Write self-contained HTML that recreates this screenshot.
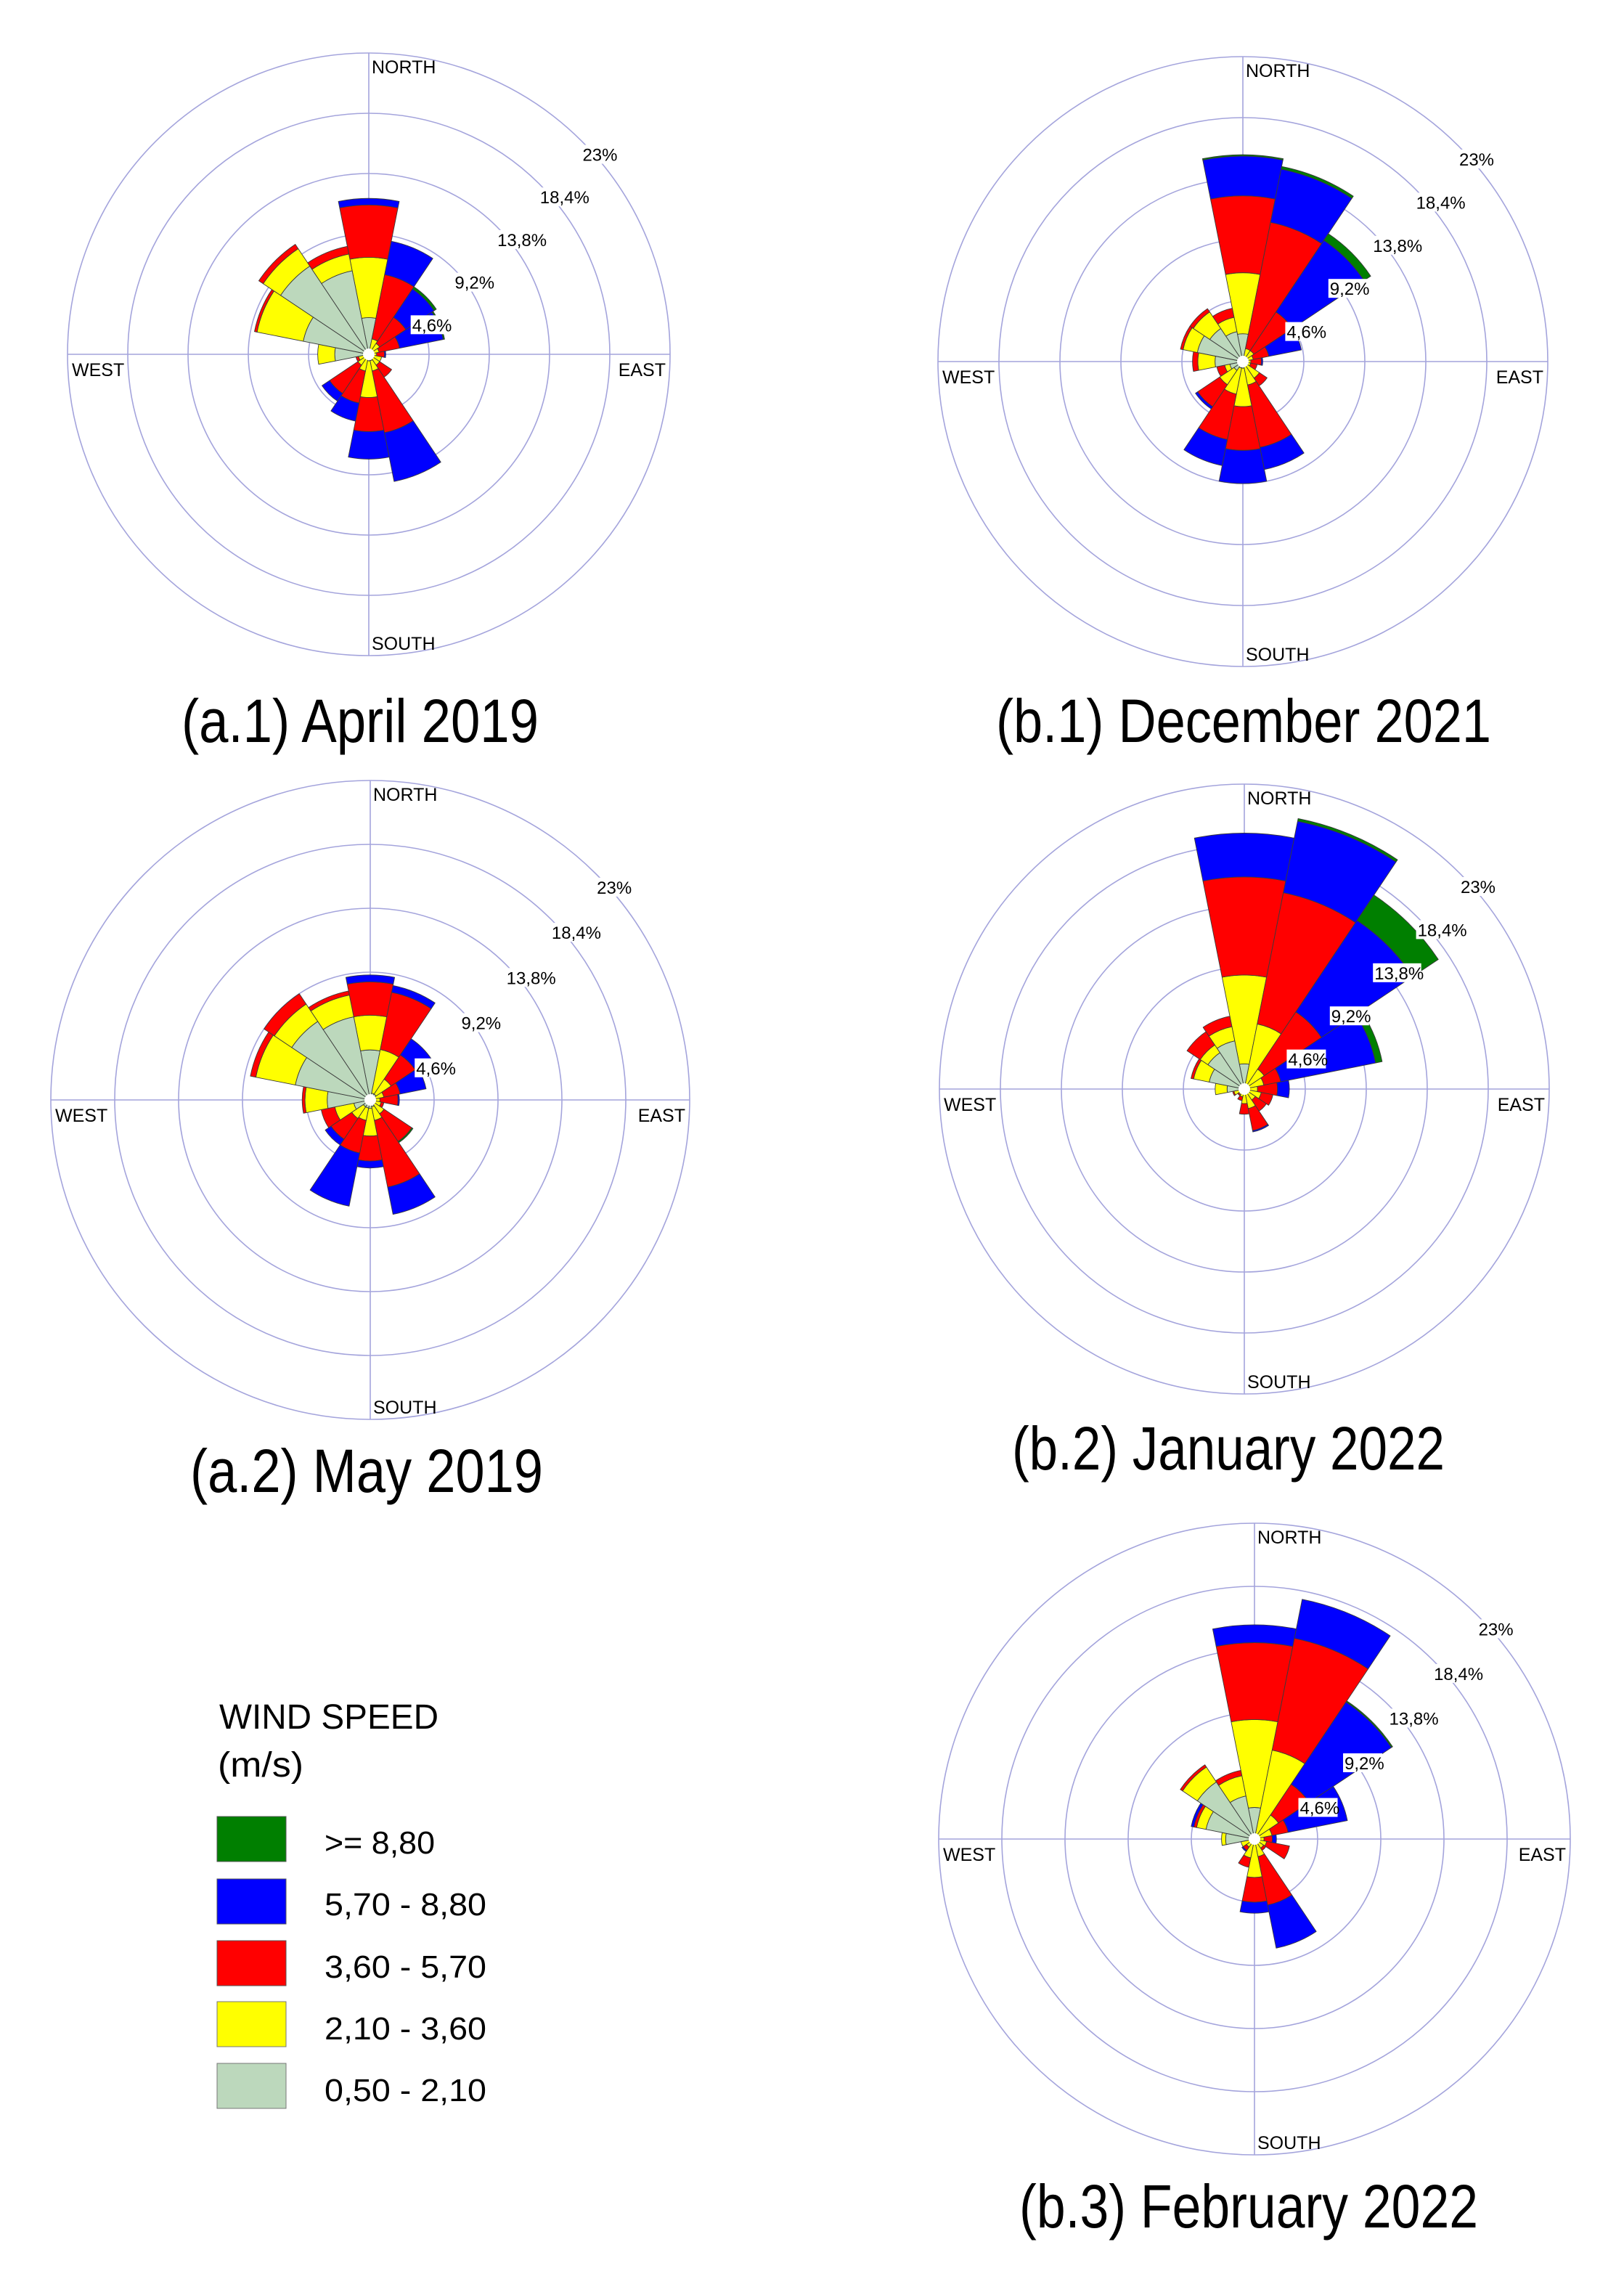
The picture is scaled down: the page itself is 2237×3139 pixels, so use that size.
<!DOCTYPE html>
<html><head><meta charset="utf-8"><style>
html,body{margin:0;padding:0;background:#fff;}
svg{display:block;}
</style></head><body>
<svg id="fig" xmlns="http://www.w3.org/2000/svg" width="2237" height="3139" viewBox="0 0 2237 3139" font-family="Liberation Sans, sans-serif">
<rect x="0" y="0" width="2237" height="3139" fill="#fff"/>
<g id="roses"></g>
<g font-size="84" fill="#000">
<text x="250" y="1022" textLength="492" lengthAdjust="spacingAndGlyphs">(a.1) April 2019</text>
<text x="1372" y="1022" textLength="682" lengthAdjust="spacingAndGlyphs">(b.1) December 2021</text>
<text x="262" y="2055" textLength="486" lengthAdjust="spacingAndGlyphs">(a.2) May 2019</text>
<text x="1394" y="2024" textLength="596" lengthAdjust="spacingAndGlyphs">(b.2) January 2022</text>
<text x="1404" y="3068" textLength="632" lengthAdjust="spacingAndGlyphs">(b.3) February 2022</text>
</g>
<g>
<text x="302" y="2381" font-size="48" textLength="302" lengthAdjust="spacingAndGlyphs">WIND SPEED</text>
<text x="300" y="2447" font-size="48" textLength="118" lengthAdjust="spacingAndGlyphs">(m/s)</text>
<rect x="299" y="2502" width="95" height="62" fill="#007f00" stroke="#555" stroke-width="1"/>
<rect x="299" y="2588" width="95" height="62" fill="#0000ff" stroke="#555" stroke-width="1"/>
<rect x="299" y="2673" width="95" height="62" fill="#ff0000" stroke="#555" stroke-width="1"/>
<rect x="299" y="2757" width="95" height="62" fill="#ffff00" stroke="#777" stroke-width="1"/>
<rect x="299" y="2842" width="95" height="62" fill="#bcd8bc" stroke="#777" stroke-width="1"/>
<g font-size="44">
<text x="447" y="2553" textLength="152" lengthAdjust="spacingAndGlyphs">&gt;= 8,80</text>
<text x="447" y="2638" textLength="223" lengthAdjust="spacingAndGlyphs">5,70 - 8,80</text>
<text x="447" y="2724" textLength="223" lengthAdjust="spacingAndGlyphs">3,60 - 5,70</text>
<text x="447" y="2809" textLength="223" lengthAdjust="spacingAndGlyphs">2,10 - 3,60</text>
<text x="447" y="2894" textLength="223" lengthAdjust="spacingAndGlyphs">0,50 - 2,10</text>
</g>
</g>
</svg>
<script>
// Directions: N, NNE, NE, ENE, E, ESE, SE, SSE, S, SSW, SW, WSW, W, WNW, NW, NNW
var directions = ["N","NNE","NE","ENE","E","ESE","SE","SSE","S","SSW","SW","WSW","W","WNW","NW","NNW"];
var ringTicks = [4.6, 9.2, 13.8, 18.4, 23];
var ringLabels = ["4,6%","9,2%","13,8%","18,4%","23%"];
var speedClasses = ["0,50 - 2,10","2,10 - 3,60","3,60 - 5,70","5,70 - 8,80",">= 8,80"];
// cumulative frequency (%) at outer edge of each speed class
var a1Grey   = [2.8,0.3,0.3,0.2,0.2,0.3,0.3,0.5,0.5,0.3,0.3,0.4,2.6,5.1,8.1,6.5];
var a1Yellow = [7.4,1.2,1.0,0.8,0.6,1.0,1.0,1.3,3.3,1.3,1.0,0.8,3.9,8.7,9.7,7.8];
var a1Red    = [11.4,6.2,3.4,2.4,1.2,1.0,2.1,6.1,5.9,3.8,3.6,1.0,3.9,8.9,10.1,8.4];
var a1Blue   = [11.9,8.8,6.0,5.8,1.3,1.0,2.1,9.9,8.0,5.2,4.3,1.0,3.9,8.9,10.1,8.4];
var a1Green  = [11.9,8.8,6.2,5.9,1.3,1.0,2.1,9.9,8.0,5.2,4.3,1.0,3.9,8.9,10.1,8.4];

var b1Grey   = [2.1,0.3,0.3,0.3,0.2,0.2,0.3,0.3,0.5,0.5,0.8,1.0,2.1,3.5,3.0,2.3];
var b1Yellow = [6.7,1.0,1.0,0.8,0.6,0.6,1.5,1.8,3.4,2.5,2.1,1.4,3.4,4.6,4.5,3.4];
var b1Red    = [12.5,10.7,4.5,2.0,1.4,1.1,2.2,6.6,6.7,6.0,4.1,2.0,3.8,4.8,4.8,4.1];
var b1Blue   = [15.5,14.8,11.0,4.5,1.5,1.1,2.2,8.3,9.2,8.0,4.3,2.0,3.8,4.8,4.8,4.1];
var b1Green  = [15.6,15.0,11.6,4.5,1.5,1.1,2.2,8.3,9.2,8.0,4.3,2.0,3.8,4.8,4.8,4.1];

var a2Grey   = [3.6,0.5,0.5,0.4,0.3,0.3,0.4,0.5,0.6,0.6,0.6,1.2,3.1,5.5,6.8,6.1];
var a2Yellow = [6.1,3.7,1.8,1.0,0.7,0.8,1.2,1.5,2.6,1.5,1.6,2.6,4.7,8.4,8.3,7.7];
var a2Red    = [8.5,7.9,3.9,2.2,2.0,1.0,3.6,6.4,4.4,3.9,3.4,3.6,4.9,8.8,9.2,8.0];
var a2Blue   = [9.0,8.4,5.3,4.1,2.1,1.0,3.6,8.4,4.9,7.8,3.9,3.6,4.9,8.8,9.2,8.0];
var a2Green  = [9.0,8.4,5.3,4.1,2.1,1.0,3.7,8.4,4.9,7.8,3.9,3.6,4.9,8.8,9.2,8.0];

var b2Grey   = [1.9,0.3,0.3,0.3,0.3,0.3,0.3,0.3,0.3,0.3,0.3,0.4,1.3,2.7,3.3,3.7];
var b2Yellow = [8.6,5.0,1.8,1.5,1.0,1.3,1.0,1.5,1.1,0.6,0.5,0.8,2.2,3.9,4.0,4.8];
var b2Red    = [16.0,15.1,7.0,2.8,2.5,2.2,2.0,3.2,1.9,0.9,0.6,0.9,2.2,4.1,5.2,5.6];
var b2Blue   = [19.3,20.6,15.3,10.1,3.4,2.2,2.0,3.3,1.9,0.9,0.6,0.9,2.2,4.1,5.2,5.6];
var b2Green  = [19.3,20.8,17.6,10.6,3.4,2.2,2.0,3.3,1.9,0.9,0.6,0.9,2.2,4.1,5.2,5.6];

var b3Grey   = [2.3,0.3,0.3,0.3,0.2,0.2,0.2,0.3,0.4,0.3,0.3,0.3,2.1,3.6,5.0,3.2];
var b3Yellow = [8.7,6.6,2.1,1.3,0.7,0.9,0.8,1.3,2.8,1.4,0.7,1.0,2.4,4.3,6.3,4.7];
var b3Red    = [14.3,14.9,4.8,2.5,1.3,2.6,1.0,4.9,4.6,2.1,1.0,1.0,2.4,4.5,6.5,5.1];
var b3Blue   = [15.6,17.8,12.0,6.9,1.6,2.6,1.0,8.1,5.4,2.1,1.1,1.0,2.4,4.7,6.5,5.1];
var b3Green  = [15.6,17.8,12.1,6.9,1.6,2.6,1.0,8.1,5.4,2.1,1.1,1.0,2.4,4.7,6.5,5.1];

var NS = "http://www.w3.org/2000/svg";
var classColors = ["#bcd8bc","#ffff00","#ff0000","#0000ff","#007f00"];
var classNames = ["grey","yellow","red","blue","green"];

function mk(tag, attrs, parent){
  var e = document.createElementNS(NS, tag);
  for (var k in attrs) e.setAttribute(k, attrs[k]);
  parent.appendChild(e);
  return e;
}
function pt(cx, cy, r, deg){
  var a = deg*Math.PI/180;
  return [cx + r*Math.sin(a), cy - r*Math.cos(a)];
}
function sectorPath(cx, cy, r0, r1, d1, d2){
  var p1 = pt(cx,cy,r1,d1), p2 = pt(cx,cy,r1,d2);
  var s = "M"+p1[0].toFixed(2)+","+p1[1].toFixed(2)+" A"+r1+","+r1+" 0 0 1 "+p2[0].toFixed(2)+","+p2[1].toFixed(2);
  if (r0 <= 0.01) { s += " L"+cx+","+cy+" Z"; }
  else {
    var q2 = pt(cx,cy,r0,d2), q1 = pt(cx,cy,r0,d1);
    s += " L"+q2[0].toFixed(2)+","+q2[1].toFixed(2)+" A"+r0+","+r0+" 0 0 0 "+q1[0].toFixed(2)+","+q1[1].toFixed(2)+" Z";
  }
  return s;
}

function drawRose(id, cx, cy, R, series){
  var root = document.getElementById("roses");
  var g = mk("g", {}, root);
  
  
  var maxV = ringTicks[ringTicks.length-1];
  function rScale(v){ return v / maxV * R; }
  var grid = mk("g", {fill:"none", stroke:"#a4a4dc", "stroke-width":"1.6"}, g);
  
  
  ringTicks.forEach(function(t){
    var c = mk("circle", {cx:cx, cy:cy, r:rScale(t)}, grid);
    
    
  });
  var l1 = mk("line", {x1:cx, y1:cy-R, x2:cx, y2:cy+R}, grid);
  
  
  var l2 = mk("line", {x1:cx-R, y1:cy, x2:cx+R, y2:cy}, grid);
  
  
  var petals = mk("g", {stroke:"#3a3a3a", "stroke-width":"0.9", "stroke-linejoin":"round"}, g);
  
  
  for (var i=0; i<directions.length; i++){
    var d1 = i*22.5 - 11.25, d2 = i*22.5 + 11.25;
    var prev = 0;
    for (var k=0; k<series.length; k++){
      var v = series[k][i];
      if (v > prev + 0.001){
        var p = mk("path", {d: sectorPath(cx,cy,rScale(prev),rScale(v),d1,d2), fill: classColors[k]}, petals);
        
        
        prev = v;
      }
    }
  }
  var hole = mk("circle", {cx:cx, cy:cy, r:8, fill:"#fff"}, g);
  
  
  var lbl = mk("g", {"font-size":"24", fill:"#000"}, g);
  
  
  ringTicks.forEach(function(t, j){
    var p = pt(cx, cy, rScale(t), 45);
    var w = ringLabels[j].length * 12.5 + 4;
    var bg = mk("rect", {x:p[0]-1, y:p[1]+5, width:w, height:26, fill:"#fff"}, lbl);
    
    
    var tx = mk("text", {x:p[0]+1, y:p[1]+27}, lbl);
    tx.textContent = ringLabels[j];
    
    
  });
  var cl = mk("g", {"font-size":"25", fill:"#000"}, g);
  
  
  var n = mk("text", {x:cx+4, y:cy-R+28}, cl); n.textContent = "NORTH";
  
  
  var s = mk("text", {x:cx+4, y:cy+R-8}, cl); s.textContent = "SOUTH";
  
  
  var w = mk("text", {x:cx-R+6, y:cy+30}, cl); w.textContent = "WEST";
  
  
  var e = mk("text", {x:cx+R-6, y:cy+30, "text-anchor":"end"}, cl); e.textContent = "EAST";
  
  
}

drawRose("a1", 508, 488, 415, [a1Grey,a1Yellow,a1Red,a1Blue,a1Green]);
drawRose("b1", 1712, 498, 420, [b1Grey,b1Yellow,b1Red,b1Blue,b1Green]);
drawRose("a2", 510, 1515, 440, [a2Grey,a2Yellow,a2Red,a2Blue,a2Green]);
drawRose("b2", 1714, 1500, 420, [b2Grey,b2Yellow,b2Red,b2Blue,b2Green]);
drawRose("b3", 1728, 2533, 435, [b3Grey,b3Yellow,b3Red,b3Blue,b3Green]);
</script>
</body></html>
